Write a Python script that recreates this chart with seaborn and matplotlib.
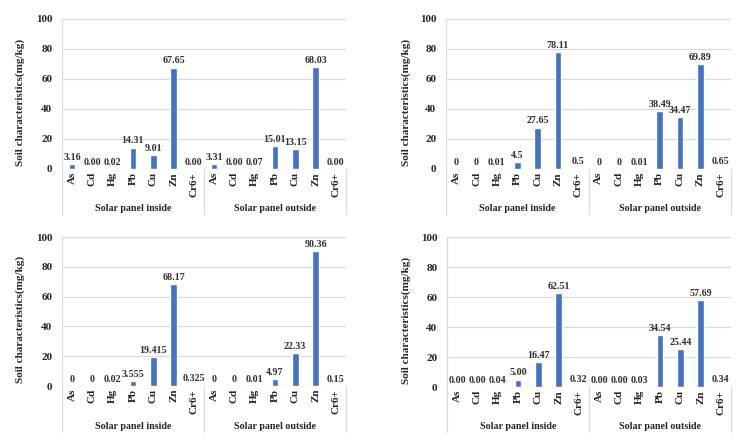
import numpy as np
import pandas as pd
import matplotlib
matplotlib.use("Agg")
import matplotlib.pyplot as plt
import seaborn as sns

elements = ["As", "Cd", "Hg", "Pb", "Cu", "Zn", "Cr6+"]
groups = ["Solar panel inside", "Solar panel outside"]

# panel (a) top-left
a_inside = [3.16, 0.00, 0.02, 14.31, 9.01, 67.65, 0.00]
a_outside = [3.31, 0.00, 0.07, 15.01, 13.15, 68.03, 0.00]
# panel (b) top-right
b_inside = [0, 0, 0.01, 4.5, 27.65, 78.11, 0.5]
b_outside = [0, 0, 0.01, 38.49, 34.47, 69.89, 0.65]
# panel (c) bottom-left
c_inside = [0, 0, 0.02, 3.555, 19.415, 68.17, 0.325]
c_outside = [0, 0, 0.01, 4.97, 22.33, 90.36, 0.15]
# panel (d) bottom-right
d_inside = [0.00, 0.00, 0.04, 5.00, 16.47, 62.51, 0.32]
d_outside = [0.00, 0.00, 0.03, 34.54, 25.44, 57.69, 0.34]

sns.set_style("white")
plt.rcParams["font.family"] = ["Liberation Serif", "DejaVu Serif"]
plt.rcParams["font.weight"] = "bold"

bar_color = "#4472C4"
grid_color = "#D9D9D9"

W, H = 750, 444
fig = plt.figure(figsize=(7.5, 4.44), dpi=100)


def panel(left, right, top, base, bottom, ylab_x, ylab_y, inside, outside, fmt):
    ax = fig.add_axes([left / W, 1 - base / H, (right - left) / W, (base - top) / H])
    df = pd.DataFrame({
        "key": [f"{g}|{e}" for g in groups for e in elements],
        "value": list(inside) + list(outside),
    })
    sns.barplot(data=df, x="key", y="value", color=bar_color, width=0.32,
                saturation=1, ax=ax)
    ax.set_xlim(-0.5, len(df) - 0.5)
    ax.set_ylim(0, 100)
    ax.set_yticks(np.arange(0, 101, 20))
    ax.tick_params(axis="y", labelsize=8, length=0, pad=7)
    for t in ax.get_yticklabels():
        t.set_fontweight("bold")
    ax.yaxis.grid(True, color=grid_color, linewidth=0.9)
    ax.set_axisbelow(True)
    for s in ["top", "right", "bottom"]:
        ax.spines[s].set_visible(False)
    ax.spines["left"].set_color(grid_color)
    ax.set_xticks([])
    ax.set_xlabel("")
    ax.set_ylabel("Soil characteristics(mg/kg)", fontsize=8, fontweight="bold")
    ax.yaxis.set_label_coords((ylab_x - left) / (right - left),
                              (base - ylab_y) / (base - top))

    labels = [fmt(v) for v in df["value"]]
    ax.bar_label(ax.containers[0], labels=labels, fontsize=7.2, padding=1.5,
                 color="#303030", fontweight="bold")

    # category and group labels below the baseline
    trans = ax.get_xaxis_transform()
    drop = (bottom - base) / (base - top)
    for i, e in enumerate(elements * 2):
        ax.text(i, -0.02, e, rotation=90, ha="center", va="top", fontsize=8,
                fontweight="bold", transform=trans)
    for j, g in enumerate(groups):
        ax.text(j * 7 + 3, -drop + 0.035, g, ha="center", va="center",
                fontsize=7.2, fontweight="bold", transform=trans)
    for xs in [-0.5, 6.5, 13.5]:
        ax.plot([xs, xs], [0, -drop], color=grid_color, linewidth=0.9,
                transform=trans, clip_on=False)
    return ax


fmt2 = lambda v: f"{v:.2f}"
fmtg = lambda v: f"{v:g}"

panel(62, 346, 19, 169, 214, 25, 102, a_inside, a_outside, fmt2)
panel(446, 731, 19, 169, 214, 411, 102, b_inside, b_outside, fmtg)
panel(62, 346, 237, 386, 432, 25, 319, c_inside, c_outside, fmtg)
panel(447, 731, 237, 387, 432, 411, 320, d_inside, d_outside, fmt2)

fig.savefig("out.png", dpi=100, facecolor="white")
